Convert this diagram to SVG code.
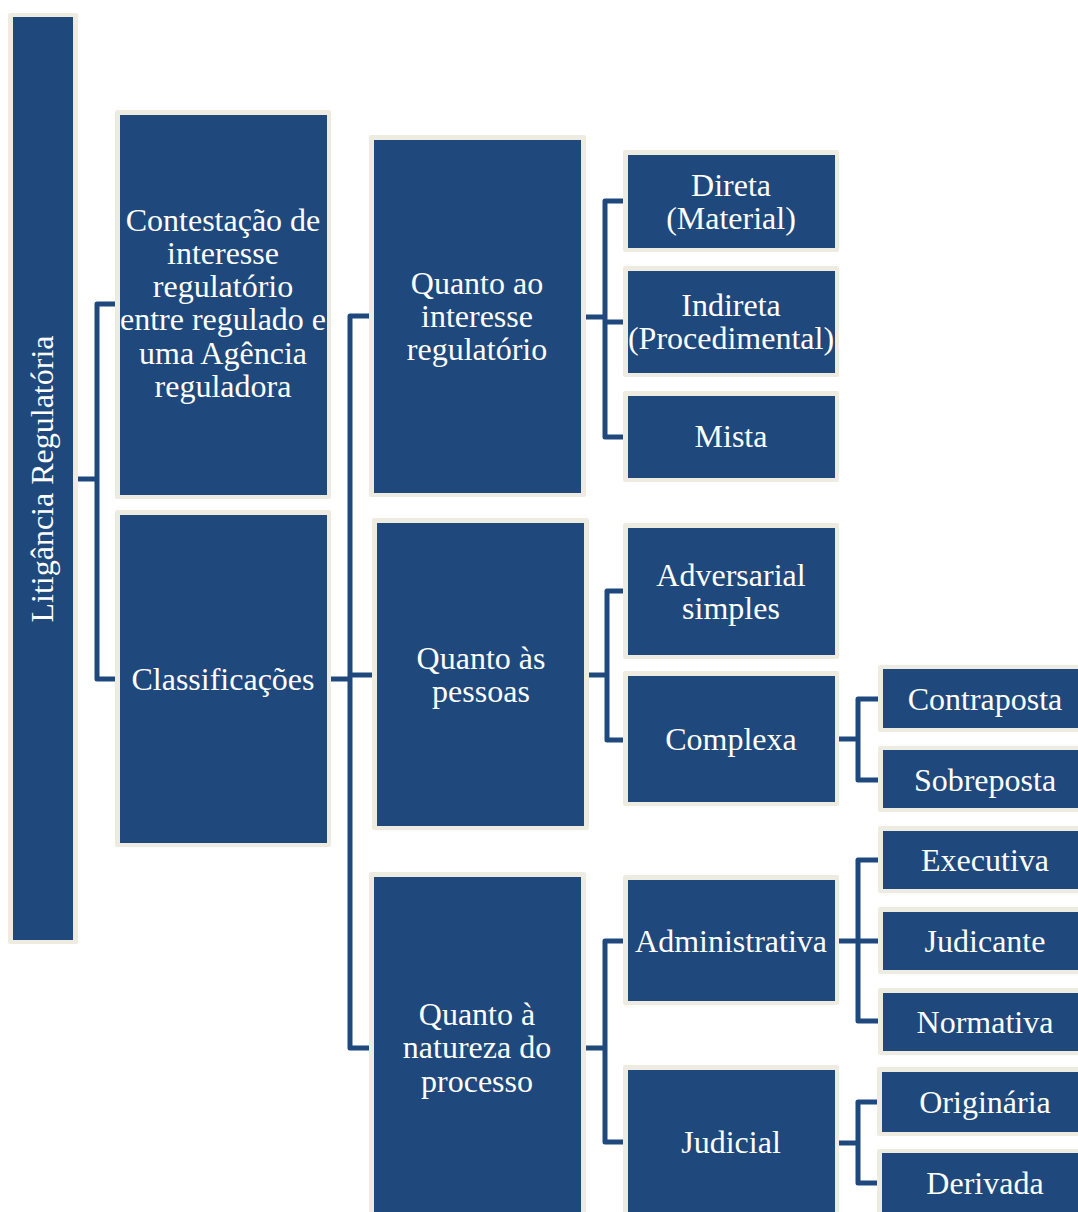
<svg xmlns="http://www.w3.org/2000/svg" width="1078" height="1212" viewBox="0 0 1078 1212">
<style>
.o{fill:#EEECE1}
.b{fill:#1F497D}
.t{font-family:"Liberation Serif","Times New Roman",serif;font-size:32px;fill:#ffffff;text-anchor:middle}
.c{fill:none;stroke:#1F497D;stroke-width:5;stroke-linejoin:round;stroke-linecap:butt}
</style>
<rect width="1078" height="1212" fill="#ffffff"/>
<g id="connectors">
<path class="c" d="M78 479H97M115 304H97V679H115"/>
<path class="c" d="M331 679H350M369 316H350V1048H369M350 675H372"/>
<path class="c" d="M586 317H605M623 201H605V437H623M605 322H623"/>
<path class="c" d="M589 675H607M623 591H607V740H623"/>
<path class="c" d="M586 1048H605M623 941H605V1142H623"/>
<path class="c" d="M839 739H858M878 699H858V780H878"/>
<path class="c" d="M839 941H858M878 860H858V1021H878M858 941H878"/>
<path class="c" d="M839 1143H858M878 1102H858V1183H878"/>
</g>
<g id="n-root">
<rect class="o" x="8" y="13" width="70" height="931" rx="2"/>
<rect class="b" x="13" y="17" width="60" height="923"/>
<text class="t" transform="translate(53 479) rotate(-90)">Litigância Regulatória</text>
</g>
<g id="n-contestacao">
<rect class="o" x="115" y="110" width="216" height="389" rx="2"/>
<rect class="b" x="120" y="115" width="207" height="380"/>
<text class="t" x="223" y="231">Contestação de</text>
<text class="t" x="223" y="264">interesse</text>
<text class="t" x="223" y="297">regulatório</text>
<text class="t" x="223" y="330">entre regulado e</text>
<text class="t" x="223" y="364">uma Agência</text>
<text class="t" x="223" y="397">reguladora</text>
</g>
<g id="n-classificacoes">
<rect class="o" x="115" y="510" width="216" height="337" rx="2"/>
<rect class="b" x="120" y="515" width="207" height="328"/>
<text class="t" x="223" y="690">Classificações</text>
</g>
<g id="n-interesse">
<rect class="o" x="369" y="135" width="217" height="362" rx="2"/>
<rect class="b" x="374" y="140" width="207" height="353"/>
<text class="t" x="477" y="294">Quanto ao</text>
<text class="t" x="477" y="327">interesse</text>
<text class="t" x="477" y="360">regulatório</text>
</g>
<g id="n-pessoas">
<rect class="o" x="372" y="518" width="217" height="312" rx="2"/>
<rect class="b" x="377" y="523" width="207" height="303"/>
<text class="t" x="481" y="669">Quanto às</text>
<text class="t" x="481" y="702">pessoas</text>
</g>
<g id="n-natureza">
<rect class="o" x="369" y="872" width="217" height="360" rx="2"/>
<rect class="b" x="374" y="877" width="207" height="350"/>
<text class="t" x="477" y="1025">Quanto à</text>
<text class="t" x="477" y="1058">natureza do</text>
<text class="t" x="477" y="1092">processo</text>
</g>
<g id="n-direta">
<rect class="o" x="623" y="150" width="216" height="102" rx="2"/>
<rect class="b" x="628" y="155" width="207" height="93"/>
<text class="t" x="731" y="196">Direta</text>
<text class="t" x="731" y="229">(Material)</text>
</g>
<g id="n-indireta">
<rect class="o" x="623" y="266" width="216" height="111" rx="2"/>
<rect class="b" x="628" y="271" width="207" height="102"/>
<text class="t" x="731" y="316">Indireta</text>
<text class="t" x="731" y="349">(Procedimental)</text>
</g>
<g id="n-mista">
<rect class="o" x="623" y="391" width="216" height="91" rx="2"/>
<rect class="b" x="628" y="396" width="207" height="82"/>
<text class="t" x="731" y="447">Mista</text>
</g>
<g id="n-adversarial">
<rect class="o" x="623" y="523" width="216" height="136" rx="2"/>
<rect class="b" x="628" y="528" width="207" height="127"/>
<text class="t" x="731" y="586">Adversarial</text>
<text class="t" x="731" y="619">simples</text>
</g>
<g id="n-complexa">
<rect class="o" x="623" y="671" width="216" height="135" rx="2"/>
<rect class="b" x="628" y="676" width="207" height="126"/>
<text class="t" x="731" y="750">Complexa</text>
</g>
<g id="n-administrativa">
<rect class="o" x="623" y="875" width="216" height="130" rx="2"/>
<rect class="b" x="628" y="880" width="207" height="121"/>
<text class="t" x="731" y="952">Administrativa</text>
</g>
<g id="n-judicial">
<rect class="o" x="623" y="1065" width="216" height="170" rx="2"/>
<rect class="b" x="628" y="1070" width="207" height="160"/>
<text class="t" x="731" y="1153">Judicial</text>
</g>
<g id="n-contraposta">
<rect class="o" x="878" y="665" width="216" height="67" rx="2"/>
<rect class="b" x="883" y="669" width="207" height="59"/>
<text class="t" x="985" y="710">Contraposta</text>
</g>
<g id="n-sobreposta">
<rect class="o" x="878" y="746" width="216" height="66" rx="2"/>
<rect class="b" x="883" y="750" width="207" height="58"/>
<text class="t" x="985" y="791">Sobreposta</text>
</g>
<g id="n-executiva">
<rect class="o" x="878" y="826" width="216" height="67" rx="2"/>
<rect class="b" x="883" y="831" width="207" height="58"/>
<text class="t" x="985" y="871">Executiva</text>
</g>
<g id="n-judicante">
<rect class="o" x="878" y="907" width="216" height="67" rx="2"/>
<rect class="b" x="883" y="912" width="207" height="58"/>
<text class="t" x="985" y="952">Judicante</text>
</g>
<g id="n-normativa">
<rect class="o" x="878" y="988" width="216" height="67" rx="2"/>
<rect class="b" x="883" y="993" width="207" height="58"/>
<text class="t" x="985" y="1033">Normativa</text>
</g>
<g id="n-originaria">
<rect class="o" x="877" y="1067" width="216" height="69" rx="2"/>
<rect class="b" x="882" y="1072" width="207" height="60"/>
<text class="t" x="985" y="1113">Originária</text>
</g>
<g id="n-derivada">
<rect class="o" x="877" y="1149" width="216" height="80" rx="2"/>
<rect class="b" x="882" y="1153" width="207" height="72"/>
<text class="t" x="985" y="1194">Derivada</text>
</g>
</svg>
